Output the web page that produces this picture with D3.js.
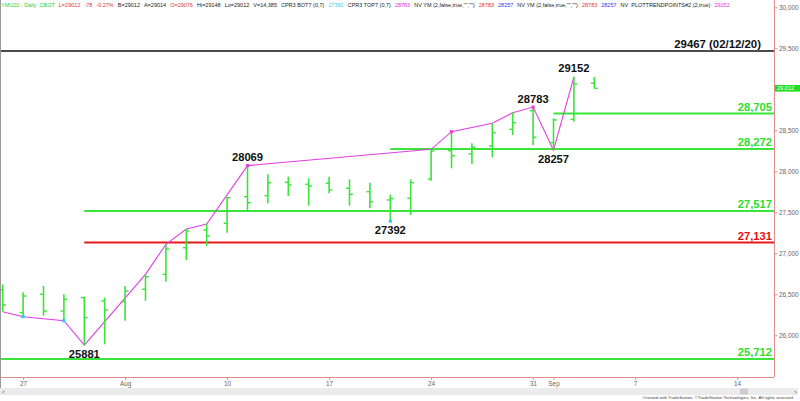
<!DOCTYPE html>
<html lang="en">
<head>
<meta charset="utf-8">
<title>YMU20 - Daily</title>
<script src="https://d3js.org/d3.v7.min.js"></script>
<style>
  body { margin: 0; padding: 0; background: #fff; }
  svg { display: block; font-family: "Liberation Sans", Arial, sans-serif; }
  .axis path { display: none; }
  .axis line { stroke: #e08c8c; }
  .axis text { fill: #666; font-size: 6.4px; }
</style>
</head>
<body>
<div id="chart"></div>
<script>
// trading sessions (future ones keep the spacing of the x axis)
var sessions = ["07-24","07-27","07-28","07-29","07-30","07-31","08-03","08-04","08-05","08-06","08-07",
  "08-10","08-11","08-12","08-13","08-14","08-17","08-18","08-19","08-20","08-21",
  "08-24","08-25","08-26","08-27","08-28","08-31","09-01","09-02","09-03",
  "09-04","09-07","09-08","09-09","09-10","09-11","09-14"];

// daily bars YMU20
var dates  = sessions.slice(0, 30);
var opens  = [26552,26276,26500,26296,26459,26418,26410,26561,26744,27068,27284,27366,27690,27702,27866,
              27842,27854,27793,27751,27650,27671,27906,28251,28211,28309,28512,28739,28349,28634,29076];
var highs  = [26622,26524,26601,26500,26471,26459,26601,26744,27110,27296,27357,27690,28069,27963,27934,
              27915,27934,27902,27861,27715,27902,28268,28483,28341,28585,28715,28783,28646,29152,29148];
var lows   = [26288,26227,26239,26178,25881,25890,26178,26422,26654,26918,27089,27251,27516,27610,27699,
              27581,27732,27581,27549,27392,27467,27885,28037,28089,28171,28443,28321,28257,28605,29012];
var closes = [26370,26479,26296,26439,26215,26309,26540,26715,27053,27272,27211,27678,27617,27861,27833,
              27821,27772,27720,27629,27668,27861,28248,28190,28293,28471,28593,28415,28626,29065,29012];

// trend points line
var trendDates  = ["07-24","07-27","07-29","07-30","08-04","08-05","08-06","08-07","08-11","08-24","08-25","08-27","08-28","08-31","09-01","09-02"];
var trendValues = [26288,26227,26178,25881,26744,27110,27296,27357,28069,28268,28483,28585,28715,28783,28257,29152];

var cyanDates = ["07-27","07-29","08-20"];
var cyanValues = [26227,26178,27392];
var pinkDates = ["08-11","08-25","08-31"];
var pinkValues = [28069,28483,28783];

var pivotHighDates = ["08-11","08-31","09-02"];
var pivotHighValues = [28069,28783,29152];
var pivotLowDates = ["07-30","08-20","09-01"];
var pivotLowValues = [25881,27392,28257];

// horizontal levels
var levelValues = [28705, 28272, 27517, 27131, 25712];
var levelStarts = ["09-01", "08-20", "07-30", "07-30", null];
var levelKinds  = ["support", "support", "support", "key", "support"];
var prevHighValue = 29467;
var prevHighLabel = "29467 (02/12/20)";

var lastPrice = 29012;

// 29,000 sits under the last price box
var yTicks = [26000, 26500, 27000, 27500, 28000, 28500, 29500, 30000];
var xTickDates = ["07-27","08-03","08-10","08-17","08-24","08-31","09-01","09-07","09-14"];
var xTickLabels = ["27","Aug","10","17","24","31","Sep","7","14"];

var headerTexts = ["YMU20 - Daily  CBOT", "L=29012", "-78", "-0.27%", "B=29012", "A=29014", "O=29076",
  "Hi=29148", "Lo=29012", "V=14,385", "CPR3 BOT7 (0,7)", "27392", "CPR3 TOP7 (0,7)", "28783",
  "NV YM (2,false,true,\"\",\"\")", "28783", "28257", "NV YM (2,false,true,\"\",\"\")", "28783", "28257",
  "NV  PLOTTRENDPOINTS#2 (2,true)", "29152"];
var headerKinds = ["sym","red","red","red","txt","txt","red","txt","txt","txt","txt","cyan","txt","pink",
  "txt","red","blue","txt","red","blue","txt","pink"];

var width = 800, height = 401;
var plotRight = 774, plotBottom = 377;

var green = "#3ae43a", red = "#e41a1a", magenta = "#e23ee2", cyan = "#33c8f0";
var headerColor = {sym: "#33cc33", red: "#e03535", txt: "#222", cyan: "#33ccee", pink: "#e030e0", blue: "#3535e8"};

var svg = d3.select("#chart").append("svg")
  .attr("width", width)
  .attr("height", height);

var x = d3.scalePoint().domain(sessions).range([2.7, 737.1]);
var y = d3.scaleLinear().domain([26000, 30000]).range([335.3, 7.3]);

svg.append("defs").append("clipPath").attr("id", "plotclip")
  .append("rect").attr("x", 0).attr("y", 0).attr("width", plotRight).attr("height", plotBottom);

// header line
var hx = 1;
headerTexts.forEach(function(t, i){
  var txt = svg.append("text")
    .attr("x", hx).attr("y", 6.6)
    .attr("font-size", 5.5)
    .attr("fill", headerColor[headerKinds[i]])
    .attr("xml:space", "preserve")
    .text(t);
  hx += txt.node().getComputedTextLength() + 4;
});

var plot = svg.append("g").attr("clip-path", "url(#plotclip)");

// prior high (black)
plot.append("line")
  .attr("x1", 0).attr("x2", plotRight)
  .attr("y1", y(prevHighValue)).attr("y2", y(prevHighValue))
  .attr("stroke", "#111").attr("stroke-width", 1.4);
svg.append("text")
  .attr("x", 761).attr("y", y(prevHighValue) - 2.6)
  .attr("text-anchor", "end")
  .attr("font-size", 11.4).attr("font-weight", "bold").attr("fill", "#111")
  .text(prevHighLabel);

// levels
levelValues.forEach(function(v, i){
  var col = levelKinds[i] == "key" ? red : green;
  var x1 = levelStarts[i] ? x(levelStarts[i]) : 0;
  plot.append("line")
    .attr("x1", x1).attr("x2", plotRight)
    .attr("y1", y(v)).attr("y2", y(v))
    .attr("stroke", col).attr("stroke-width", 2);
  svg.append("text")
    .attr("x", 772).attr("y", y(v) - 2.6)
    .attr("text-anchor", "end")
    .attr("font-size", 11.2).attr("font-weight", "bold")
    .attr("fill", levelKinds[i] == "key" ? "#e01010" : "#2edc2e")
    .text(d3.format(",")(v));
});

// trend line
var trend = trendDates.map(function(d, i){ return [x(d), y(trendValues[i])]; });
plot.append("path")
  .attr("d", d3.line()(trend))
  .attr("fill", "none")
  .attr("stroke", magenta).attr("stroke-width", 1.1);

// bars
var bars = plot.selectAll(".bar").data(dates).enter().append("g").attr("class", "bar");
bars.append("line")
  .attr("x1", function(d){ return x(d); }).attr("x2", function(d){ return x(d); })
  .attr("y1", function(d, i){ return y(highs[i]); })
  .attr("y2", function(d, i){ return y(lows[i]); })
  .attr("stroke", green).attr("stroke-width", 1.6);
bars.append("line")
  .attr("x1", function(d){ return x(d) - 3.4; }).attr("x2", function(d){ return x(d); })
  .attr("y1", function(d, i){ return y(opens[i]); })
  .attr("y2", function(d, i){ return y(opens[i]); })
  .attr("stroke", green).attr("stroke-width", 1.4);
bars.append("line")
  .attr("x1", function(d){ return x(d); }).attr("x2", function(d){ return x(d) + 3.4; })
  .attr("y1", function(d, i){ return y(closes[i]); })
  .attr("y2", function(d, i){ return y(closes[i]); })
  .attr("stroke", green).attr("stroke-width", 1.4);

// dots
cyanDates.forEach(function(d, i){
  plot.append("rect").attr("x", x(d) - 1.6).attr("y", y(cyanValues[i]) - 1.6)
    .attr("width", 3.2).attr("height", 3.2).attr("fill", cyan);
});
pinkDates.forEach(function(d, i){
  plot.append("rect").attr("x", x(d) - 1.6).attr("y", y(pinkValues[i]) - 1.6)
    .attr("width", 3.2).attr("height", 3.2).attr("fill", magenta);
});

// pivot labels
pivotHighDates.forEach(function(d, i){
  svg.append("text")
    .attr("x", x(d)).attr("y", y(pivotHighValues[i]) - 4.5)
    .attr("text-anchor", "middle")
    .attr("font-size", 11.2).attr("font-weight", "bold").attr("fill", "#111")
    .text(pivotHighValues[i]);
});
pivotLowDates.forEach(function(d, i){
  svg.append("text")
    .attr("x", x(d)).attr("y", y(pivotLowValues[i]) + 12.5)
    .attr("text-anchor", "middle")
    .attr("font-size", 11.2).attr("font-weight", "bold").attr("fill", "#111")
    .text(pivotLowValues[i]);
});

// axes
svg.append("line").attr("x1", plotRight + 0.5).attr("x2", plotRight + 0.5)
  .attr("y1", 0).attr("y2", plotBottom).attr("stroke", "#e08c8c");
svg.append("line").attr("x1", 0).attr("x2", plotRight)
  .attr("y1", plotBottom + 0.5).attr("y2", plotBottom + 0.5).attr("stroke", "#e08c8c");
svg.append("line").attr("x1", 0.5).attr("x2", 0.5)
  .attr("y1", 0).attr("y2", 388).attr("stroke", "#999");

svg.append("g").attr("class", "axis")
  .attr("transform", "translate(" + (plotRight + 0.5) + ",0)")
  .call(d3.axisRight(y).tickValues(yTicks).tickSize(3).tickPadding(1.5).tickFormat(d3.format(",")));

svg.append("g").attr("class", "axis")
  .attr("transform", "translate(0," + (plotBottom + 0.5) + ")")
  .call(d3.axisBottom(x).tickValues(xTickDates).tickSize(2.5).tickPadding(1.5)
    .tickFormat(function(d){ return xTickLabels[xTickDates.indexOf(d)]; }));

// last price marker
svg.append("rect").attr("x", 775).attr("y", y(lastPrice) - 3.3)
  .attr("width", 25).attr("height", 6.6).attr("fill", "#22dd22");
svg.append("text").attr("x", 777).attr("y", y(lastPrice) + 2)
  .attr("font-size", 5.6).attr("fill", "#fff").text(d3.format(",")(lastPrice));

// scroll bar + credit
svg.append("rect").attr("x", 0).attr("y", 388).attr("width", 798).attr("height", 7).attr("fill", "#ebebeb");
svg.append("rect").attr("x", 740).attr("y", 388.5).attr("width", 8).attr("height", 6).attr("fill", "#cdcdcd");
svg.append("text").attr("x", 2).attr("y", 393.8).attr("font-size", 5).attr("fill", "#555").text("<");
svg.append("text").attr("x", 794).attr("y", 393.8).attr("font-size", 5).attr("fill", "#555").text(">");
svg.append("text").attr("x", 643).attr("y", 398.8)
  .attr("font-size", 4.4).attr("fill", "#444")
  .attr("textLength", 151).attr("lengthAdjust", "spacingAndGlyphs")
  .text("Created with TradeStation. \u00A9TradeStation Technologies, Inc. All rights reserved.");
</script>
</body>
</html>
